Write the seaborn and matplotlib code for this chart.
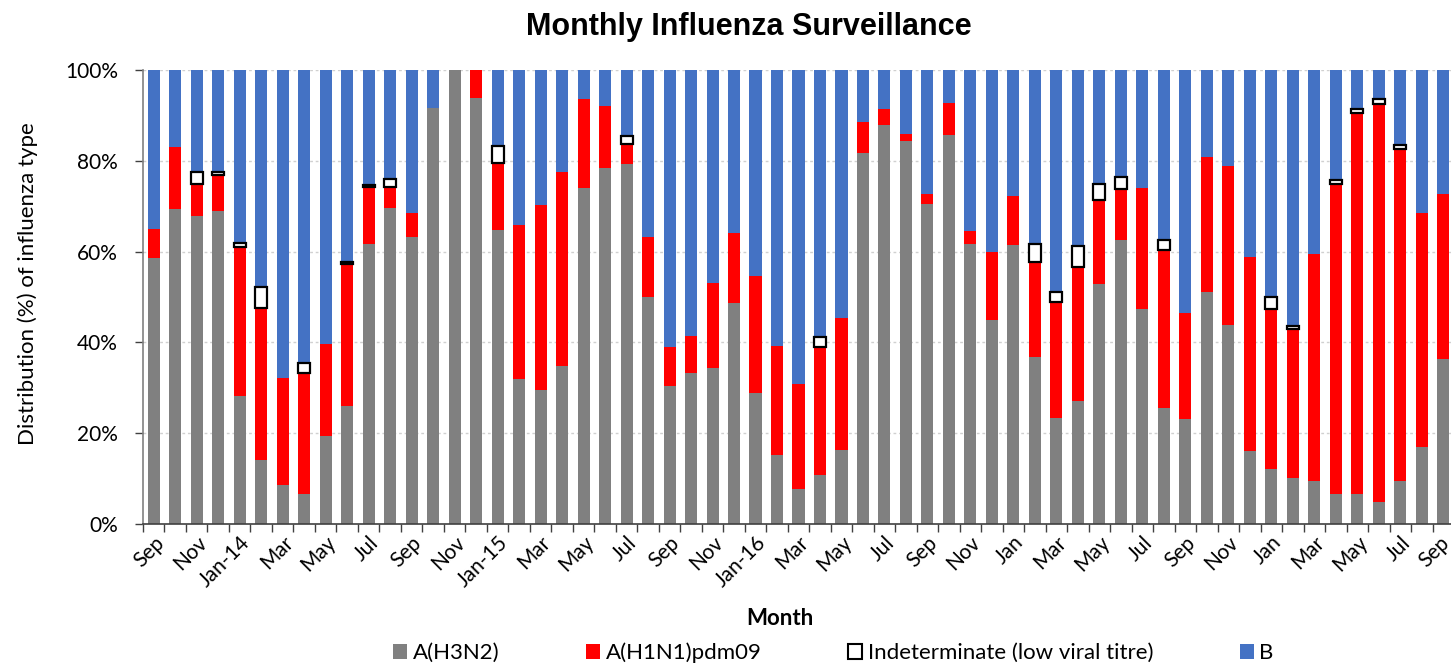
import numpy as np
import pandas as pd
import matplotlib
matplotlib.use("Agg")
import matplotlib.pyplot as plt
import matplotlib.transforms as mtransforms
from matplotlib.patches import Patch
import seaborn as sns

# percentages per month, Sep 2013 -> Sep 2018
h3n2 = [58.6, 69.4, 67.8, 68.9, 28.2, 14.1, 8.7, 6.5, 19.4, 26.1, 61.7, 69.5, 63.2, 91.7, 100.0,
        93.8, 64.8, 31.9, 29.5, 34.9, 73.9, 78.4, 79.3, 50.0, 30.4, 33.3, 34.4, 48.7, 28.9, 15.1,
        7.7, 10.8, 16.3, 81.7, 87.9, 84.4, 70.5, 85.7, 61.7, 44.9, 61.5, 36.8, 23.3, 27.2, 52.9,
        62.5, 47.4, 25.5, 23.2, 51.0, 43.8, 16.0, 12.1, 10.1, 9.5, 6.6, 6.5, 4.8, 9.5, 17.0, 36.3]
h1n1 = [6.4, 13.7, 7.1, 8.0, 32.9, 33.4, 23.5, 26.7, 20.3, 31.2, 12.5, 4.7, 5.2, 0.0, 0.0,
        6.2, 14.8, 34.0, 40.8, 42.7, 19.8, 13.7, 4.4, 13.2, 8.6, 8.2, 18.6, 15.3, 25.8, 24.2,
        23.1, 28.1, 29.0, 6.8, 3.4, 1.6, 2.2, 7.1, 2.9, 15.1, 10.7, 21.0, 25.5, 29.5, 18.4,
        11.2, 26.7, 34.9, 23.3, 29.8, 35.1, 42.8, 35.2, 32.9, 50.0, 68.4, 84.0, 87.8, 73.0, 51.5, 36.4]
indet = [0.0, 0.0, 2.6, 0.6, 0.8, 4.8, 0.0, 2.3, 0.0, 0.5, 0.5, 1.9, 0.0, 0.0, 0.0,
         0.0, 3.7, 0.0, 0.0, 0.0, 0.0, 0.0, 1.8, 0.0, 0.0, 0.0, 0.0, 0.0, 0.0, 0.0,
         0.0, 2.3, 0.0, 0.0, 0.0, 0.0, 0.0, 0.0, 0.0, 0.0, 0.0, 3.9, 2.2, 4.5, 3.5,
         2.7, 0.0, 2.2, 0.0, 0.0, 0.0, 0.0, 2.8, 0.6, 0.0, 0.8, 0.8, 1.0, 0.9, 0.0, 0.0]
flu_b = [35.0, 16.9, 22.5, 22.5, 38.1, 47.7, 67.8, 64.5, 60.3, 42.2, 25.3, 23.9, 31.6, 8.3, 0.0,
         0.0, 16.7, 34.1, 29.7, 22.4, 6.3, 7.9, 14.5, 36.8, 61.0, 58.5, 47.0, 36.0, 45.3, 60.7,
         69.2, 58.8, 54.7, 11.5, 8.7, 14.0, 27.3, 7.2, 35.4, 40.0, 27.8, 38.3, 49.0, 38.8, 25.2,
         23.6, 25.9, 37.4, 53.5, 19.2, 21.1, 41.2, 49.9, 56.4, 40.5, 24.2, 8.7, 6.4, 16.6, 31.5, 27.3]
tick_labels = ['Sep', 'Nov', 'Jan-14', 'Mar', 'May', 'Jul', 'Sep', 'Nov', 'Jan-15', 'Mar', 'May',
               'Jul', 'Sep', 'Nov', 'Jan-16', 'Mar', 'May', 'Jul', 'Sep', 'Nov', 'Jan', 'Mar',
               'May', 'Jul', 'Sep', 'Nov', 'Jan', 'Mar', 'May', 'Jul', 'Sep']

df = pd.DataFrame({'month': np.arange(len(h3n2)), 'h3n2': h3n2, 'h1n1': h1n1,
                   'indet': indet, 'b': flu_b})
df['base_red'] = df['h3n2']
df['base_ind'] = df['h3n2'] + df['h1n1']
df['base_b'] = df['base_ind'] + df['indet']

sns.set_style("white")
plt.rcParams['font.family'] = ['Lato', 'DejaVu Sans']
plt.rcParams['text.color'] = 'black'
plt.rcParams['axes.labelcolor'] = 'black'
plt.rcParams['xtick.labelcolor'] = 'black'
plt.rcParams['ytick.labelcolor'] = 'black'

fig = plt.figure(figsize=(14.51, 6.65), dpi=100)
ax = fig.add_axes([143 / 1451, 1 - 524 / 665, (1454 - 143) / 1451, 454 / 665])

w = 0.56
sns.barplot(data=df, x='month', y='h3n2', color='#808080', width=w, saturation=1,
            errorbar=None, ax=ax, linewidth=0)
sns.barplot(data=df, x='month', y='h1n1', bottom=df['base_red'], color='#FF0000', width=w,
            saturation=1, errorbar=None, ax=ax, linewidth=0)
ind = df[df['indet'] > 0]
ax.bar(ind['month'], ind['indet'], bottom=ind['base_ind'], width=w, color='white',
       edgecolor='black', linewidth=1.6, zorder=3)
sns.barplot(data=df, x='month', y='b', bottom=df['base_b'], color='#4472C4', width=w,
            saturation=1, errorbar=None, ax=ax, linewidth=0)

ax.set_xlim(-0.5, 60.5)
ax.set_ylim(0, 100)
ax.set_yticks(np.arange(0, 101, 20))
ax.set_yticklabels([f'{v}%' for v in range(0, 101, 20)], fontsize=15)
ax.yaxis.grid(True, color='#D0D0D0', linestyle=(0, (2, 2)), linewidth=1)
ax.set_axisbelow(True)

ax.set_xticks(np.arange(-0.5, 61, 1))
ax.set_xticklabels([])
ax.set_xticks(np.arange(0, 61, 2), minor=True)
ax.set_xticklabels(tick_labels, minor=True, rotation=45, ha='right', rotation_mode='anchor',
                   fontsize=15)
ax.tick_params(axis='x', which='major', direction='out', length=6, width=1, color='#404040',
               bottom=True)
ax.tick_params(axis='x', which='minor', length=0, pad=6)
ax.tick_params(axis='y', direction='out', length=6, width=1, color='#404040', left=True, pad=12)

# nudge the last label so it stays inside the picture
last = ax.get_xticklabels(minor=True)[-1]
last.set_transform(last.get_transform() +
                   mtransforms.ScaledTranslation(-4 / 100, 0, fig.dpi_scale_trans))

for s in ['top', 'right']:
    ax.spines[s].set_visible(False)
ax.spines['left'].set_color('#808080')
ax.spines['bottom'].set_color('#404040')
ax.spines['left'].set_linewidth(1.2)
ax.spines['bottom'].set_linewidth(1.2)

ax.set_ylabel('Distribution (%) of influenza type', fontsize=16)
ax.yaxis.set_label_coords(-0.080, 0.530)
ax.set_xlabel('Month', fontsize=16, fontweight='bold')
ax.xaxis.set_label_coords(0.486, -0.185)

fig.suptitle('Monthly Influenza Surveillance', x=0.516, y=1 - 27 / 665, va='center',
             fontsize=22, fontweight='bold', family=['Liberation Sans', 'DejaVu Sans'])

handles = [Patch(facecolor='#808080', edgecolor='none', label='A(H3N2)'),
           Patch(facecolor='#FF0000', edgecolor='none', label='A(H1N1)pdm09'),
           Patch(facecolor='white', edgecolor='black', linewidth=1.5,
                 label='Indeterminate (low viral titre)'),
           Patch(facecolor='#4472C4', edgecolor='none', label='B')]
fig.legend(handles=handles, loc='center', bbox_to_anchor=(0.5744, 1 - 653 / 665), ncol=4,
           frameon=False, fontsize=16, handlelength=0.63, handleheight=0.63,
           handletextpad=0.25, columnspacing=3.9)

fig.savefig('out.png', dpi=100)
